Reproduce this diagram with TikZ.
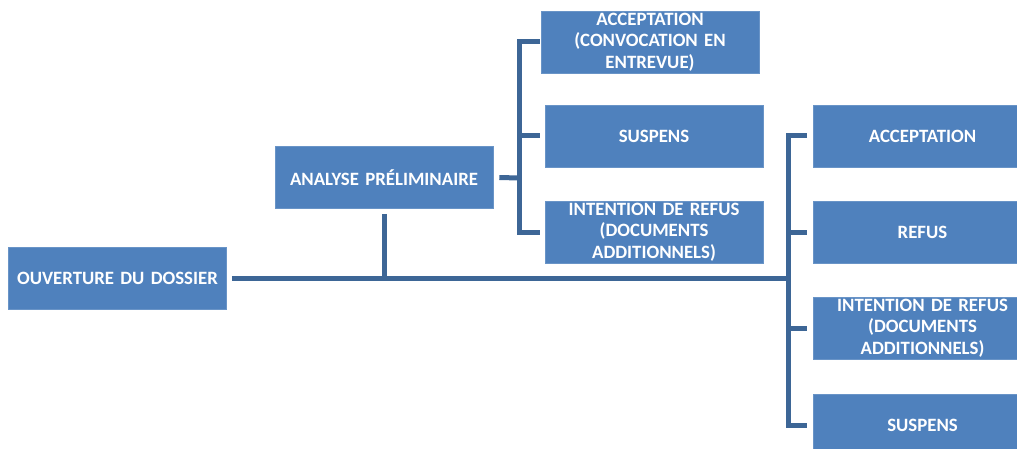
\documentclass[tikz,border=0pt]{standalone}
\usepackage{fontspec}
\setmainfont{Carlito}
\definecolor{boxblue}{HTML}{4F81BD}
\definecolor{linkblue}{HTML}{3D6696}
\tikzset{
  box/.style={rectangle, fill=boxblue, draw=boxblue!85!white, line width=0.6pt,
    minimum width=218pt, minimum height=62pt, inner sep=2pt,
    text=white, font=\bfseries\fontsize{18.8}{21.5}\selectfont, align=center, text width=214pt},
  conn/.style={draw=linkblue, line width=5pt}
}
\begin{document}
\begin{tikzpicture}[x=1pt,y=-1pt]
\useasboundingbox (0,0) rectangle (1017,449);
\node[box] (ouv) at (117.5,278) {OUVERTURE DU DOSSIER};
\node[box] (ana) at (384,177.5) {ANALYSE PRÉLIMINAIRE};
\node[box] (t1) at (650,42) {ACCEPTATION\\(CONVOCATION EN\\ENTREVUE)};
\node[box] (t2) at (654,136) {SUSPENS};
\node[box] (t3) at (654,232) {INTENTION DE REFUS\\(DOCUMENTS\\ADDITIONNELS)};
\node[box] (r1) at (922.5,136) {ACCEPTATION};
\node[box] (r2) at (922.5,232) {REFUS};
\node[box] (r3) at (922.5,328) {INTENTION DE REFUS\\(DOCUMENTS\\ADDITIONNELS)};
\node[box] (r4) at (922.5,425) {SUSPENS};
% coordinates
\coordinate (jR) at (788,278);
\coordinate (jA) at (ana.south |- ouv.east);
\coordinate (bL) at (519,178);
% main line
\draw[conn] ([xshift=5pt]ouv.east) -- (jR);
\draw[conn] ([yshift=-5pt]ana.south) -- ([yshift=2.5pt]jA);
% left bracket
\draw[conn] ([xshift=6pt]ana.east) -- (bL);
\draw[conn] ([xshift=-1pt]t1.west) -- (t1.west -| bL) -- (t3.west -| bL) -- ([xshift=-5pt]t3.west);
\draw[conn] (t2.west -| bL) -- ([xshift=-5pt]t2.west);
% right bracket
\draw[conn] ([xshift=-6pt]r1.west) -- (r1.west -| jR) -- (r4.west -| jR) -- ([xshift=-6pt]r4.west);
\draw[conn] (r2.west -| jR) -- ([xshift=-6pt]r2.west);
\draw[conn] (r3.west -| jR) -- ([xshift=-6pt]r3.west);
\end{tikzpicture}
\end{document}
